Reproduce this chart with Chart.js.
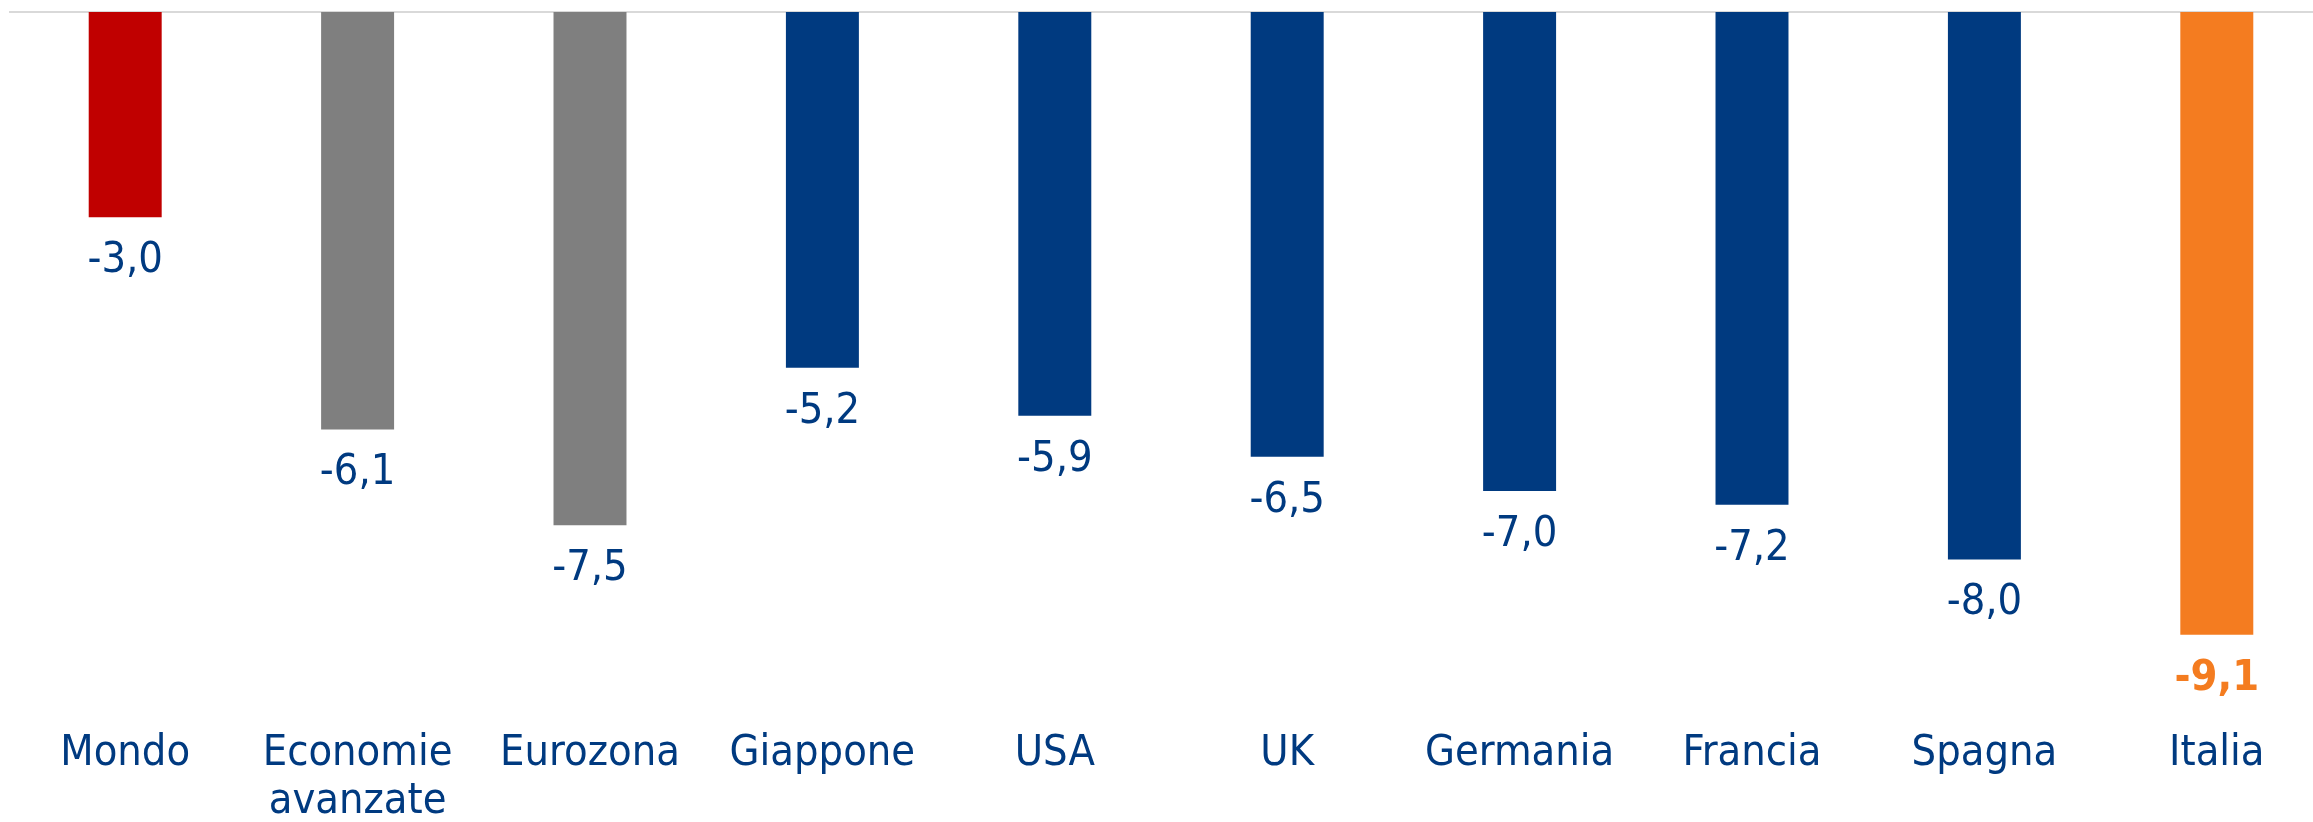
<!DOCTYPE html>
<html lang="it">
<head>
<meta charset="utf-8">
<title>Variazione del PIL 2020</title>
<script src="https://cdn.jsdelivr.net/npm/chart.js@4/dist/chart.umd.min.js"></script>
<style>
  html, body { margin: 0; padding: 0; background: #ffffff; overflow: hidden; }
  #wrap { width: 2333px; height: 822px; }
</style>
</head>
<body>
<div id="wrap"><canvas id="pil" width="2333" height="822"></canvas></div>
<script>
// Paesi e aree
const categories = ['Mondo', ['Economie', 'avanzate'], 'Eurozona', 'Giappone', 'USA', 'UK', 'Germania', 'Francia', 'Spagna', 'Italia'];
// Variazione percentuale
const values = [-3.0, -6.1, -7.5, -5.2, -5.9, -6.5, -7.0, -7.2, -8.0, -9.1];

const BLUE = '#003a80';
const barColors = ['#c00000', '#7f7f7f', '#7f7f7f', BLUE, BLUE, BLUE, BLUE, BLUE, BLUE, '#f47c20'];
const FONT = '"DejaVu Sans Condensed", "DejaVu Sans", sans-serif';
const fmt = v => v.toFixed(1).replace('.', ',');

// zero line and value labels under each bar
const decorations = {
  id: 'decorations',
  beforeDatasetsDraw(chart) {
    const { ctx, chartArea, scales } = chart;
    const y0 = scales.y.getPixelForValue(0);
    ctx.save();
    ctx.strokeStyle = '#d9d9d9';
    ctx.lineWidth = 2;
    ctx.beginPath();
    ctx.moveTo(chartArea.left, y0);
    ctx.lineTo(chartArea.right, y0);
    ctx.stroke();
    ctx.restore();
  },
  afterDatasetsDraw(chart) {
    const { ctx } = chart;
    const meta = chart.getDatasetMeta(0);
    ctx.save();
    ctx.textAlign = 'center';
    ctx.textBaseline = 'alphabetic';
    meta.data.forEach((bar, i) => {
      const last = i === values.length - 1;
      ctx.font = (last ? 'bold ' : '') + '43px ' + FONT;
      ctx.fillStyle = last ? '#f47c20' : BLUE;
      ctx.fillText(fmt(values[i]), bar.x, bar.y + 55);
    });
    ctx.restore();
  }
};

new Chart(document.getElementById('pil'), {
  type: 'bar',
  data: {
    labels: categories,
    datasets: [{
      data: values,
      backgroundColor: barColors,
      borderWidth: 0,
      barPercentage: 0.314,
      categoryPercentage: 1
    }]
  },
  options: {
    responsive: false,
    animation: false,
    devicePixelRatio: 1,
    layout: { padding: { left: 9, right: 0, top: 12, bottom: -29.5 } },
    plugins: { legend: { display: false }, tooltip: { enabled: false } },
    scales: {
      x: {
        grid: { display: false },
        border: { display: false },
        ticks: {
          autoSkip: false,
          maxRotation: 0,
          padding: 25,
          color: BLUE,
          font: { family: FONT, size: 43, lineHeight: 1.13 }
        }
      },
      y: {
        display: false,
        min: -10,
        max: 0
      }
    }
  },
  plugins: [decorations]
});
</script>
</body>
</html>
